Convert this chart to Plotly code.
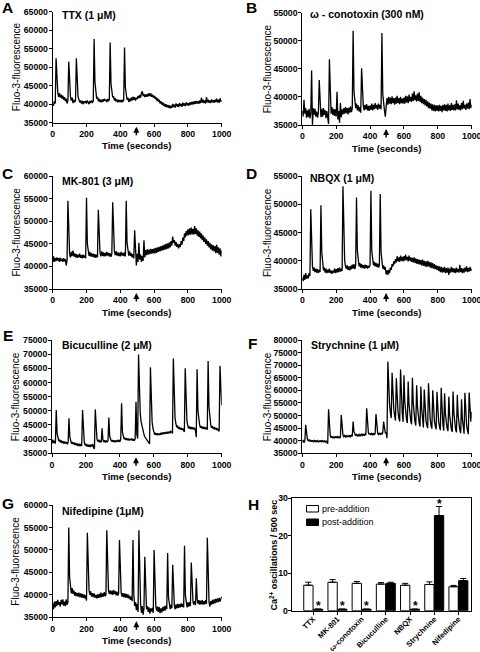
import plotly.graph_objects as go

# ---------------- data (fluorescence in thousands, sampled every 5 s) ----------------
time_s = list(range(0, 1001, 5))

ttx_k = [
    40.0, 39.6, 40.8, 40.2, 52.4, 45.0, 43.2, 42.0, 43.0, 41.8, 42.6, 41.5, 42.3, 41.2, 41.9, 40.8, 41.5, 40.2, 41.0, 51.5,
    44.0, 42.0, 41.0, 41.8, 40.3, 41.2, 40.5, 41.0, 52.4, 44.5, 42.0, 41.3, 40.5, 41.0, 40.2, 40.9, 40.0, 40.8, 40.3, 40.9,
    40.2, 41.0, 40.4, 40.0, 40.9, 40.3, 41.0, 40.5, 40.8, 57.6, 46.0, 42.8, 41.5, 42.0, 40.8, 41.4, 40.6, 41.2, 40.5, 41.3,
    40.7, 41.5, 40.9, 41.2, 40.6, 41.4, 40.8, 41.3, 56.7, 45.5, 42.5, 41.8, 42.2, 41.0, 41.6, 40.7, 41.3, 40.5, 41.2, 40.6,
    41.1, 40.5, 41.2, 40.7, 41.0, 55.3, 44.5, 42.3, 41.2, 41.8, 40.6, 41.5, 40.8, 41.8, 41.0, 42.0, 41.2, 41.9, 41.0, 41.6,
    41.5, 42.2, 41.6, 42.5, 41.8, 43.0, 43.5, 42.2, 42.8, 41.9, 42.6, 42.0, 42.8, 42.1, 43.0, 42.2, 42.9, 42.0, 42.6, 41.8,
    42.3, 41.5, 42.0, 41.0, 41.6, 40.7, 41.2, 40.2, 40.8, 39.9, 40.5, 39.6, 40.2, 39.3, 40.0, 39.2, 39.8, 39.0, 39.7, 38.9,
    39.6, 39.0, 40.1, 39.2, 39.9, 39.1, 40.2, 39.4, 40.0, 39.2, 40.3, 39.5, 40.1, 39.3, 40.4, 39.6, 40.2, 39.5, 40.5, 39.7,
    40.3, 39.6, 40.5, 39.8, 40.6, 39.9, 40.7, 40.0, 40.8, 40.1, 40.9, 40.2, 40.8, 40.1, 41.0, 40.3, 41.8, 40.4, 41.2, 40.3,
    41.0, 40.2, 41.9, 40.5, 41.2, 40.4, 41.0, 40.3, 41.3, 40.5, 41.1, 40.4, 41.2, 40.6, 41.5, 40.5, 41.2, 40.4, 41.6, 40.7,
    41.0,
]

conotoxin_k = [
    37.5, 36.5, 39.5, 37.0, 38.0, 36.3, 37.6, 36.4, 37.9, 36.2, 37.0, 44.7, 35.0, 38.0, 36.8, 37.9, 36.5, 37.4, 36.3, 37.2,
    43.0, 37.5, 36.4, 37.9, 36.5, 38.0, 36.8, 37.6, 36.2, 37.5, 36.6, 35.2, 46.7, 38.6, 37.0, 38.2, 36.8, 37.9, 36.6, 37.8,
    36.5, 40.9, 36.0, 37.5, 35.4, 38.9, 36.4, 37.8, 36.9, 38.0, 37.0, 38.2, 37.1, 38.0, 36.9, 38.1, 37.2, 38.3, 37.3, 38.0,
    51.8, 41.0, 39.2, 38.0, 38.8, 37.6, 38.5, 37.4, 38.2, 37.2, 45.1, 39.5, 38.5, 37.6, 38.6, 37.8, 38.7, 37.6, 38.4, 37.5,
    38.5, 37.7, 38.8, 37.6, 38.6, 37.8, 38.9, 37.9, 38.6, 37.7, 38.8, 37.9, 38.6, 37.8, 51.4, 40.5, 38.5, 37.6, 36.5, 37.8,
    39.8, 38.6, 40.0, 38.8, 39.9, 38.7, 40.1, 38.9, 39.8, 38.6, 39.9, 38.8, 40.2, 38.9, 39.8, 38.7, 40.0, 38.9, 39.7, 38.8,
    39.9, 38.8, 40.2, 39.0, 40.1, 38.9, 40.4, 39.2, 40.0, 39.1, 40.6, 39.3, 41.0, 39.4, 40.3, 39.2, 40.6, 39.3, 40.8, 39.1,
    40.2, 38.9, 39.9, 38.7, 39.6, 38.5, 39.5, 38.3, 39.2, 38.0, 39.0, 37.9, 38.8, 37.6, 38.7, 37.5, 38.6, 37.4, 38.5, 37.5,
    38.5, 37.4, 38.6, 37.5, 38.4, 37.3, 38.6, 37.6, 38.7, 37.5, 38.6, 37.4, 38.8, 37.6, 38.5, 37.5, 38.9, 37.7, 38.6, 37.6,
    38.7, 37.6, 39.4, 37.8, 38.8, 37.7, 38.5, 37.6, 38.9, 37.8, 39.3, 37.9, 38.6, 37.7, 38.8, 37.9, 39.0, 37.8, 39.6, 38.0,
    38.6,
]

mk801_k = [
    41.0, 42.2, 41.0, 41.8, 41.2, 42.0, 41.3, 41.8, 41.0, 41.9, 41.2, 41.7, 41.0, 41.8, 41.1, 41.6, 40.2, 41.5, 54.5, 44.5,
    42.8, 42.0, 43.2, 42.3, 43.5, 42.2, 42.9, 42.0, 42.7, 41.9, 42.6, 42.0, 42.8, 41.9, 42.5, 41.8, 42.6, 41.9, 42.4, 41.8,
    55.2, 45.0, 43.0, 42.3, 43.2, 42.2, 42.9, 42.1, 42.8, 42.0, 42.7, 41.9, 42.6, 42.0, 52.5, 44.8, 43.0, 42.2, 43.3, 42.3,
    43.1, 42.2, 43.0, 42.3, 43.2, 42.4, 43.0, 42.2, 42.9, 42.1, 42.8, 54.2, 45.0, 43.3, 42.5, 43.4, 42.4, 43.1, 42.3, 43.0,
    42.2, 43.2, 42.4, 43.0, 42.3, 43.1, 42.2, 54.5, 45.2, 43.2, 42.4, 43.3, 42.3, 42.9, 42.0, 42.7, 41.8, 48.0, 42.5, 40.2,
    42.8, 41.0, 45.2, 41.5, 42.6, 41.0, 42.3, 41.2, 45.8, 42.0, 43.6, 42.5, 43.8, 42.6, 43.7, 42.7, 43.9, 42.8, 43.8, 42.9,
    44.0, 42.9, 44.1, 43.0, 44.2, 43.2, 44.3, 43.3, 44.5, 43.5, 44.6, 43.6, 44.8, 43.7, 45.0, 43.8, 45.1, 44.0, 45.3, 44.2,
    45.6, 44.6, 46.6, 45.2, 45.8, 44.6, 45.4, 44.3, 45.0, 44.0, 44.9, 44.3, 45.6, 44.8, 46.4, 45.6, 47.3, 46.4, 47.8, 46.8,
    48.2, 46.9, 48.4, 47.0, 48.6, 47.1, 48.3, 47.0, 48.9, 47.2, 48.4, 46.8, 48.0, 46.5, 47.7, 46.2, 47.3, 45.8, 46.8, 45.4,
    46.4, 45.0, 46.0, 44.6, 45.6, 44.2, 45.2, 43.8, 44.9, 43.5, 44.7, 43.3, 44.5, 42.9, 44.8, 43.0, 44.2, 42.6, 44.0, 42.2,
    43.5,
]

nbqx_k = [
    37.0, 36.4, 37.5, 36.6, 37.8, 36.8, 37.4, 36.9, 37.8, 37.3, 49.1, 41.0, 39.0, 38.2, 38.8, 38.0, 38.6, 37.9, 38.5, 37.8,
    38.4, 38.0, 49.8, 41.5, 39.2, 38.3, 38.8, 37.9, 38.6, 37.8, 38.4, 37.9, 38.6, 37.8, 38.3, 37.7, 38.2, 37.9, 38.6, 37.8,
    38.5, 37.9, 38.7, 38.0, 38.8, 38.1, 38.6, 38.2, 53.2, 42.5, 40.0, 39.0, 38.6, 39.2, 38.4, 39.0, 38.3, 39.1, 38.5, 39.3,
    38.6, 39.4, 38.5, 39.2, 51.2, 41.8, 39.8, 39.0, 39.6, 38.8, 39.4, 38.7, 39.2, 38.6, 39.3, 38.7, 39.2, 38.6, 39.1, 38.8,
    39.3, 52.4, 41.8, 40.0, 39.2, 39.8, 39.0, 39.6, 38.9, 39.5, 38.8, 39.2, 51.8, 41.5, 39.5, 38.6, 39.2, 38.4, 38.9, 37.6,
    38.3, 37.5, 38.4, 37.8, 38.8, 38.4, 39.4, 39.0, 39.9, 39.4, 40.3, 39.7, 40.8, 39.9, 40.6, 39.8, 40.9, 40.0, 40.7, 39.9,
    40.8, 40.0, 41.1, 40.1, 40.7, 39.9, 40.9, 40.0, 40.6, 39.8, 40.5, 39.7, 40.6, 39.6, 40.4, 39.5, 40.3, 39.4, 40.2, 39.3,
    40.1, 39.2, 40.2, 39.1, 40.0, 39.0, 39.9, 38.9, 40.0, 39.0, 39.8, 38.8, 39.7, 38.7, 39.6, 38.6, 39.4, 38.5, 39.2, 38.4,
    39.1, 38.2, 39.0, 38.0, 38.9, 37.9, 38.8, 38.0, 38.9, 37.8, 38.7, 37.9, 38.8, 37.5, 38.6, 37.9, 38.9, 38.0, 38.7, 37.9,
    38.6, 37.8, 38.8, 38.0, 38.5, 37.9, 39.3, 38.0, 38.7, 37.8, 38.6, 37.9, 38.8, 38.1, 39.0, 38.0, 38.7, 38.1, 38.9, 38.2,
    38.6,
]

bicuculline_k = [
    38.5, 39.8, 38.6, 39.4, 38.4, 50.3, 42.0, 40.3, 39.3, 39.8, 38.8, 39.5, 38.6, 39.3, 38.4, 39.2, 38.5, 39.0, 38.2, 38.9,
    47.4, 40.8, 39.2, 38.4, 39.0, 38.2, 38.8, 37.9, 38.6, 37.8, 38.5, 37.6, 38.4, 37.5, 38.3, 37.6, 50.3, 41.5, 39.0, 37.8,
    38.3, 37.4, 38.1, 37.3, 38.0, 37.2, 38.1, 37.4, 38.2, 37.0, 36.6, 50.5, 42.0, 40.0, 39.2, 39.8, 38.9, 39.5, 38.8, 43.8,
    39.8, 39.0, 39.6, 38.8, 39.5, 38.9, 39.4, 47.6, 41.0, 39.8, 39.2, 39.7, 39.0, 39.6, 38.9, 39.5, 39.0, 39.7, 39.1, 39.6,
    39.2, 39.8, 52.7, 42.5, 40.8, 40.0, 40.5, 39.7, 40.3, 39.6, 40.2, 39.5, 40.1, 39.6, 40.2, 39.5, 40.0, 39.4, 40.1, 53.2,
    41.5, 40.2, 69.9, 55.0, 49.0, 46.2, 44.5, 43.2, 42.2, 41.0, 40.5, 40.0, 39.6, 39.3, 38.8, 38.3, 65.4, 51.0, 46.0, 43.8,
    42.5, 41.6, 42.2, 41.5, 42.1, 41.4, 42.0, 41.5, 42.2, 41.6, 42.3, 41.7, 42.4, 41.8, 42.5, 41.9, 42.6, 42.0, 42.7, 42.1,
    42.8, 42.2, 42.0, 68.5, 53.0, 47.5, 45.5, 44.2, 44.8, 43.6, 44.3, 43.4, 44.0, 43.2, 43.8, 43.0, 42.5, 65.0, 50.5, 46.5,
    44.8, 43.8, 44.5, 43.6, 44.3, 43.5, 44.2, 43.4, 44.0, 43.2, 40.7, 64.7, 50.0, 46.5, 45.0, 44.0, 44.6, 43.7, 44.4, 43.6,
    44.3, 43.5, 44.1, 43.3, 67.6, 51.5, 47.0, 45.2, 44.0, 44.6, 43.6, 44.3, 43.4, 44.0, 43.2, 43.8, 43.0, 42.8, 65.9, 55.0,
    52.0,
]

strychnine_k = [
    39.5, 40.3, 39.2, 40.0, 46.3, 41.5, 40.6, 40.0, 40.4, 39.7, 40.3, 39.6, 40.2, 39.5, 40.1, 39.6, 40.2, 39.5, 40.0, 39.4,
    40.1, 39.5, 40.2, 39.6, 40.0, 39.4, 40.1, 39.5, 40.0, 39.3, 38.8, 52.5, 43.5, 42.0, 41.2, 41.8, 41.0, 41.6, 41.0, 41.7,
    41.1, 41.8, 41.2, 41.7, 41.0, 41.5, 50.2, 43.5, 42.2, 41.6, 42.1, 41.5, 42.0, 41.4, 42.0, 41.5, 42.2, 41.6, 42.1, 41.7,
    47.6, 43.6, 42.6, 42.0, 42.5, 41.9, 42.4, 41.9, 42.5, 42.0, 42.6, 42.1, 42.7, 42.0, 42.6, 42.2, 52.9, 44.5, 43.2, 42.5,
    43.0, 42.3, 42.9, 42.4, 43.0, 42.3, 42.8, 50.6, 44.0, 43.0, 42.5, 43.1, 42.4, 43.0, 42.5, 43.2, 47.6, 43.8, 43.0, 43.3,
    41.0, 71.4, 60.0, 54.5, 51.0, 49.0, 67.0, 57.5, 52.5, 50.0, 48.0, 64.8, 56.5, 51.5, 49.0, 47.6, 68.3, 57.0, 51.0, 47.5,
    66.0, 55.5, 50.5, 48.5, 47.0, 63.5, 54.5, 50.0, 48.0, 46.5, 65.0, 55.0, 49.5, 47.5, 46.0, 62.0, 53.5, 49.0, 47.0, 45.6,
    61.5, 52.5, 48.0, 45.3, 60.3, 52.0, 48.0, 46.2, 45.0, 62.8, 53.0, 48.5, 46.0, 44.8, 60.0, 52.0, 47.8, 45.8, 44.5, 59.4,
    51.5, 47.5, 45.5, 44.2, 61.0, 51.5, 46.5, 44.0, 58.8, 50.5, 46.5, 44.8, 43.8, 57.5, 50.0, 46.0, 44.5, 43.5, 59.5, 51.0,
    46.5, 44.5, 43.3, 58.2, 50.0, 46.0, 44.2, 43.0, 56.5, 48.5, 45.0, 42.8, 59.0, 50.0, 46.0, 44.0, 42.6, 59.1, 51.5, 47.5,
    51.5,
]

nifedipine_k = [
    38.0, 36.8, 38.5, 37.2, 38.6, 37.5, 38.9, 37.8, 38.4, 37.4, 38.9, 37.9, 39.0, 37.6, 38.5, 37.5, 39.0, 37.8, 38.3, 55.0,
    44.0, 41.2, 40.3, 41.5, 40.2, 41.0, 39.8, 40.6, 39.7, 40.4, 39.6, 40.5, 39.5, 40.3, 39.4, 40.2, 39.3, 40.1, 39.2, 39.9,
    38.7, 53.8, 42.5, 41.0, 40.0, 40.8, 39.6, 40.4, 39.5, 40.3, 39.4, 40.0, 39.2, 40.1, 39.3, 40.2, 39.4, 40.5, 39.5, 40.3,
    39.6, 40.6, 39.7, 40.0, 54.4, 43.0, 41.0, 40.2, 41.0, 40.1, 40.9, 40.0, 41.1, 40.2, 40.8, 39.9, 40.7, 39.8, 40.3, 52.2,
    42.0, 40.5, 39.6, 40.4, 39.5, 40.3, 39.4, 40.2, 39.3, 40.1, 39.2, 39.8, 38.9, 39.6, 38.6, 52.2, 40.0, 37.5, 38.4, 36.6,
    38.0, 36.2, 54.4, 41.5, 38.0, 36.0, 37.5, 35.6, 37.0, 48.5, 38.5, 36.8, 37.5, 36.2, 37.2, 35.8, 37.0, 36.3, 37.1, 36.0,
    50.0, 39.5, 37.5, 36.5, 37.4, 36.2, 37.3, 35.9, 37.0, 36.1, 37.2, 36.4, 37.5, 36.5, 37.6, 36.8, 49.3, 39.5, 37.8, 36.8,
    37.8, 37.0, 46.7, 39.0, 37.5, 36.8, 37.9, 37.0, 38.0, 37.1, 37.9, 37.2, 38.1, 37.3, 38.0, 37.2, 50.9, 40.0, 38.0, 37.2,
    38.3, 37.4, 38.4, 37.5, 47.2, 40.0, 38.5, 37.8, 38.6, 37.7, 43.7, 39.0, 38.0, 38.8, 37.8, 38.7, 37.9, 38.8, 37.8, 38.6,
    37.9, 38.8, 38.0, 52.7, 41.0, 38.4, 37.4, 38.6, 37.8, 38.9, 38.0, 39.0, 38.1, 39.1, 38.3, 39.2, 38.4, 39.3, 38.5, 39.4,
    39.6,
]

# bar chart (panel H)
bar_categories = ["TTX", "MK-801", "ω-conotoxin", "Bicuculline", "NBQX", "Strychnine", "Nifedipine"]
pre_mean = [6.8, 7.6, 7.3, 7.1, 6.8, 7.0, 6.4]
pre_sem = [0.8, 0.7, 0.5, 0.4, 0.5, 0.7, 0.35]
post_mean = [0.4, 0.4, 0.4, 7.3, 0.4, 25.4, 8.0]
post_sem = [0.0, 0.0, 0.0, 0.3, 0.0, 2.4, 0.6]
post_significant = [True, True, True, False, True, True, False]

drug_added_at_s = 495

# ---------------- layout helpers ----------------
W, H = 480, 652
FONT = "Liberation Sans, Arial, sans-serif"


def px(x):
    return x / W


def py(y):
    return 1 - y / H


panels = [
    dict(letter="A", title="TTX (1 μM)", data=ttx_k, ymax=65000,
         xd=(52.7, 221.7), yd=(11.7, 122.7), title_xy=(60, 15), letter_xy=(7.5, 7.5), ytitle_x=16),
    dict(letter="B", title="ω - conotoxin (300 nM)", data=conotoxin_k, ymax=55000,
         xd=(302.3, 471.7), yd=(12.7, 125.0), title_xy=(308, 14), letter_xy=(251, 7.5), ytitle_x=267.5),
    dict(letter="C", title="MK-801 (3 μM)", data=mk801_k, ymax=60000,
         xd=(52.7, 221.7), yd=(176.0, 289.0), title_xy=(60, 180.5), letter_xy=(7.5, 173), ytitle_x=16),
    dict(letter="D", title="NBQX (1 μM)", data=nbqx_k, ymax=55000,
         xd=(302.3, 471.7), yd=(176.0, 289.0), title_xy=(308, 178.5), letter_xy=(251, 173), ytitle_x=267.5),
    dict(letter="E", title="Bicuculline (2 μM)", data=bicuculline_k, ymax=75000,
         xd=(52.0, 221.7), yd=(340.0, 453.3), title_xy=(60, 345), letter_xy=(7.5, 335), ytitle_x=15.5),
    dict(letter="F", title="Strychnine (1 μM)", data=strychnine_k, ymax=80000,
         xd=(302.3, 471.7), yd=(340.0, 453.3), title_xy=(309, 345), letter_xy=(252, 343), ytitle_x=267.5),
    dict(letter="G", title="Nifedipine (1μM)", data=nifedipine_k, ymax=60000,
         xd=(52.7, 221.7), yd=(505.0, 617.3), title_xy=(60, 511), letter_xy=(7.5, 503), ytitle_x=15.5),
]

fig = go.Figure()
annotations = []
layout_axes = {}

tick_font = dict(family=FONT, size=8.7, color="black", weight="bold")

for i, p in enumerate(panels, start=1):
    xname = "x" if i == 1 else f"x{i}"
    yname = "y" if i == 1 else f"y{i}"
    xkey = "xaxis" if i == 1 else f"xaxis{i}"
    ykey = "yaxis" if i == 1 else f"yaxis{i}"
    fig.add_trace(go.Scatter(
        x=time_s, y=[v * 1000 for v in p["data"]], mode="lines",
        line=dict(color="black", width=1.3), xaxis=xname, yaxis=yname,
        showlegend=False, hoverinfo="skip"))
    yticks = list(range(35000, p["ymax"] + 1, 5000))
    layout_axes[xkey] = dict(
        domain=[px(p["xd"][0]), px(p["xd"][1])], anchor=yname, range=[0, 1000],
        tickvals=[0, 200, 400, 600, 800, 1000], ticktext=["0", "200", "400", "600", "800", "1000"],
        ticks="outside", ticklen=3, tickwidth=1, ticklabeloverflow="allow",
        tickcolor="black", showline=True, linecolor="black", linewidth=1,
        showgrid=False, zeroline=False, tickfont=tick_font, fixedrange=True, automargin=False)
    layout_axes[ykey] = dict(
        domain=[py(p["yd"][1]), py(p["yd"][0])], anchor=xname, range=[35000, p["ymax"]],
        tickvals=yticks, ticktext=[str(v) for v in yticks], ticks="outside", ticklen=3, tickwidth=1,
        ticklabeloverflow="allow", ticklabelstandoff=-1,
        tickcolor="black", showline=True, linecolor="black", linewidth=1,
        showgrid=False, zeroline=False, tickfont=tick_font, fixedrange=True, automargin=False)
    xc = (p["xd"][0] + p["xd"][1]) / 2
    yc = (p["yd"][0] + p["yd"][1]) / 2
    # panel letter
    annotations.append(dict(text=p["letter"], x=px(p["letter_xy"][0]), y=py(p["letter_xy"][1]),
                            xref="paper", yref="paper", xanchor="center", yanchor="middle", showarrow=False,
                            font=dict(family=FONT, size=15.5, color="black", weight="bold")))
    # panel title
    annotations.append(dict(text=p["title"], x=px(p["title_xy"][0]), y=py(p["title_xy"][1]),
                            xref="paper", yref="paper", xanchor="left", yanchor="middle", showarrow=False,
                            font=dict(family=FONT, size=10.5, color="black", weight="bold")))
    # x title
    annotations.append(dict(text="Time (seconds)", x=px(xc), y=py(p["yd"][1] + 23),
                            xref="paper", yref="paper", xanchor="center", yanchor="middle", showarrow=False,
                            font=dict(family=FONT, size=9.5, color="black", weight="bold")))
    # y title
    annotations.append(dict(text="Fluo-3-fluorescence", x=px(p["ytitle_x"]), y=py(yc), textangle=-90,
                            xref="paper", yref="paper", xanchor="center", yanchor="middle", showarrow=False,
                            font=dict(family=FONT, size=10, color="black")))
    # addition arrow
    annotations.append(dict(text="", x=drug_added_at_s, xref=xname, y=py(p["yd"][1] + 4), yref="paper",
                            showarrow=True, ax=0, ay=10, arrowhead=2, arrowsize=0.8, arrowwidth=1.5,
                            arrowcolor="black", standoff=0))

# ---------------- panel H ----------------
fig.add_trace(go.Bar(
    x=bar_categories, y=pre_mean, xaxis="x8", yaxis="y8", name="pre-addition",
    marker=dict(color="white", line=dict(color="black", width=1)),
    error_y=dict(type="data", array=pre_sem, arrayminus=[0] * len(pre_sem), symmetric=False,
                 color="black", thickness=1, width=3),
    showlegend=False, hoverinfo="skip"))
fig.add_trace(go.Bar(
    x=bar_categories, y=post_mean, xaxis="x8", yaxis="y8", name="post-addition",
    marker=dict(color="black", line=dict(color="black", width=1)),
    error_y=dict(type="data", array=post_sem, arrayminus=[0] * len(post_sem), symmetric=False,
                 color="black", thickness=1, width=3),
    showlegend=False, hoverinfo="skip"))

hx0, hx1, hy0, hy1 = 291.7, 471.0, 498.3, 610.7
layout_axes["xaxis8"] = dict(
    domain=[px(hx0), px(hx1)], anchor="y8", type="category", categoryorder="array",
    categoryarray=bar_categories, range=[-0.89, 6.52], ticks="outside", ticklen=3, tickwidth=1,
    tickcolor="black", tickangle=-45, showline=True, mirror=True, linecolor="black", linewidth=1,
    ticklabelstandoff=-3, ticklabeloverflow="allow",
    showgrid=False, zeroline=False, tickfont=dict(family=FONT, size=7.6, color="black", weight="bold"),
    fixedrange=True, automargin=False)
layout_axes["yaxis8"] = dict(
    domain=[py(hy1), py(hy0)], anchor="x8", range=[0, 30], tickvals=[0, 10, 20, 30],
    ticktext=["0", "10", "20", "30"], ticklabeloverflow="allow", ticklabelstandoff=-2,
    ticks="outside", ticklen=3, tickwidth=1, tickcolor="black", showline=True, mirror=True,
    linecolor="black", linewidth=1, showgrid=False, zeroline=False,
    tickfont=dict(family=FONT, size=8.7, color="black", weight="bold"), fixedrange=True, automargin=False)

for cat, m, e, sig in zip(bar_categories, post_mean, post_sem, post_significant):
    if sig:
        annotations.append(dict(text="*", x=cat, xref="x8", y=m + e, yref="y8", xshift=5, yshift=3,
                                xanchor="center", yanchor="middle", showarrow=False,
                                font=dict(family=FONT, size=12, color="black", weight="bold")))

annotations.append(dict(text="H", x=px(253), y=py(504), xref="paper", yref="paper",
                        xanchor="center", yanchor="middle", showarrow=False,
                        font=dict(family=FONT, size=15.5, color="black", weight="bold")))
annotations.append(dict(text="Ca<sup>2+</sup> oscillations / 500 sec", x=px(273), y=py((hy0 + hy1) / 2 + 1),
                        textangle=-90, xref="paper", yref="paper", xanchor="center", yanchor="middle",
                        showarrow=False, font=dict(family=FONT, size=9, color="black", weight="bold")))

# manual legend
shapes = [
    dict(type="rect", xref="paper", yref="paper", x0=px(306.5), x1=px(318.5), y0=py(512), y1=py(505.5),
         line=dict(color="black", width=1), fillcolor="white"),
    dict(type="rect", xref="paper", yref="paper", x0=px(306.5), x1=px(318.5), y0=py(525.5), y1=py(519),
         line=dict(color="black", width=1), fillcolor="black"),
]
annotations.append(dict(text="pre-addition", x=px(320), y=py(508.8), xref="paper", yref="paper",
                        xanchor="left", yanchor="middle", showarrow=False,
                        font=dict(family=FONT, size=9, color="black")))
annotations.append(dict(text="post-addition", x=px(320), y=py(522.3), xref="paper", yref="paper",
                        xanchor="left", yanchor="middle", showarrow=False,
                        font=dict(family=FONT, size=9, color="black")))

fig.update_layout(
    width=W, height=H, margin=dict(l=0, r=0, t=0, b=0),
    paper_bgcolor="white", plot_bgcolor="white", showlegend=False,
    barmode="group", bargap=0.2, bargroupgap=0.04,
    font=dict(family=FONT, color="black"),
    annotations=annotations, shapes=shapes, **layout_axes)

fig.write_html("out.html", config={"displayModeBar": False},
               post_script="document.body.style.margin='0';document.body.style.overflow='hidden';")
